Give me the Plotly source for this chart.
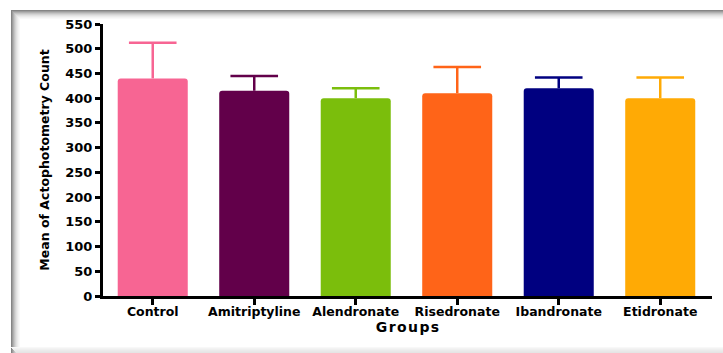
import plotly.graph_objects as go

groups = ["Control", "Amitriptyline", "Alendronate", "Risedronate", "Ibandronate", "Etidronate"]
means = [440, 415, 400, 410, 420, 400]
errors = [72, 30, 20, 53, 22, 42]
colors = ["#F76593", "#62004A", "#7BBE0C", "#FF6418", "#000080", "#FFAA05"]
y_ticks = list(range(0, 551, 50))

fig = go.Figure()
for g, m, e, c in zip(groups, means, errors, colors):
    fig.add_trace(go.Bar(
        x=[g], y=[m], width=0.69,
        marker=dict(color=c, line=dict(width=0)),
        error_y=dict(type="data", array=[e], arrayminus=[0], symmetric=False,
                     color=c, thickness=2.5, width=0),
        showlegend=False,
    ))
    # cap of the error bar
    fig.add_trace(go.Scatter(
        x=[g], y=[m + e], mode="markers",
        marker=dict(symbol="line-ew", size=34, line=dict(color=c, width=2.5)),
        showlegend=False, hoverinfo="skip",
    ))

tick_font = "DejaVu Sans, sans-serif"
fig.update_layout(
    width=723, height=353,
    margin=dict(l=103, r=11, t=24, b=57),
    paper_bgcolor="white", plot_bgcolor="white",
    barmode="overlay", barcornerradius=3,
    font=dict(family=tick_font, color="black"),
    xaxis=dict(
        categoryorder="array", categoryarray=groups,
        range=[-0.49, 5.51],
        showline=True, linecolor="black", linewidth=3,
        ticks="outside", ticklen=6, tickwidth=2.5, tickcolor="black",
        ticklabelstandoff=-4,
        tickfont=dict(size=12.5, family=tick_font, weight="bold"),
        title=dict(text="G\u200ar\u200ao\u200au\u200ap\u200as", font=dict(size=14, weight="bold", family=tick_font), standoff=4),
        showgrid=False, zeroline=False,
    ),
    yaxis=dict(
        range=[0, 550], tickvals=y_ticks,
        showline=True, linecolor="black", linewidth=3,
        ticks="outside", ticklen=5, tickwidth=2.5, tickcolor="black",
        tickfont=dict(size=13, family=tick_font, weight="bold"),
        title=dict(text="Mean of Actophotometry Count", font=dict(size=12.5, weight="bold", family=tick_font), standoff=13),
        showgrid=False, zeroline=False,
    ),
)

# picture frame with soft shadow (pixel positions converted to paper coordinates)
def px(x):
    return (x - 103) / 609

def py(y):
    return (296 - y) / 272

shade = ["#858585", "#9c9c9c", "#b1b1b1", "#c4c4c4", "#d4d4d4", "#e1e1e1", "#ebebeb", "#f3f3f3", "#f9f9f9"]
for i, col in enumerate(shade):
    fig.add_shape(type="line", xref="paper", yref="paper", layer="below",
                  x0=px(11 + i), x1=px(723),
                  y0=py(10.5 + i), y1=py(10.5 + i),
                  line=dict(color=col, width=1))
for i, col in enumerate(shade):
    fig.add_shape(type="line", xref="paper", yref="paper", layer="below",
                  x0=px(11.5 + i), x1=px(11.5 + i),
                  y0=py(10 + i), y1=py(353),
                  line=dict(color=col, width=1))
bottom = ["#f8f8f8", "#f3f3f3", "#efefef", "#ebebeb", "#e8e8e8", "#e5e5e5"]
for i, col in enumerate(bottom):
    fig.add_shape(type="line", xref="paper", yref="paper", layer="below",
                  x0=px(11 + i), x1=px(723),
                  y0=py(347.5 + i), y1=py(347.5 + i),
                  line=dict(color=col, width=1))

fig.write_html("out.html", config={"displayModeBar": False},
               post_script="document.body.style.margin='0px';")
